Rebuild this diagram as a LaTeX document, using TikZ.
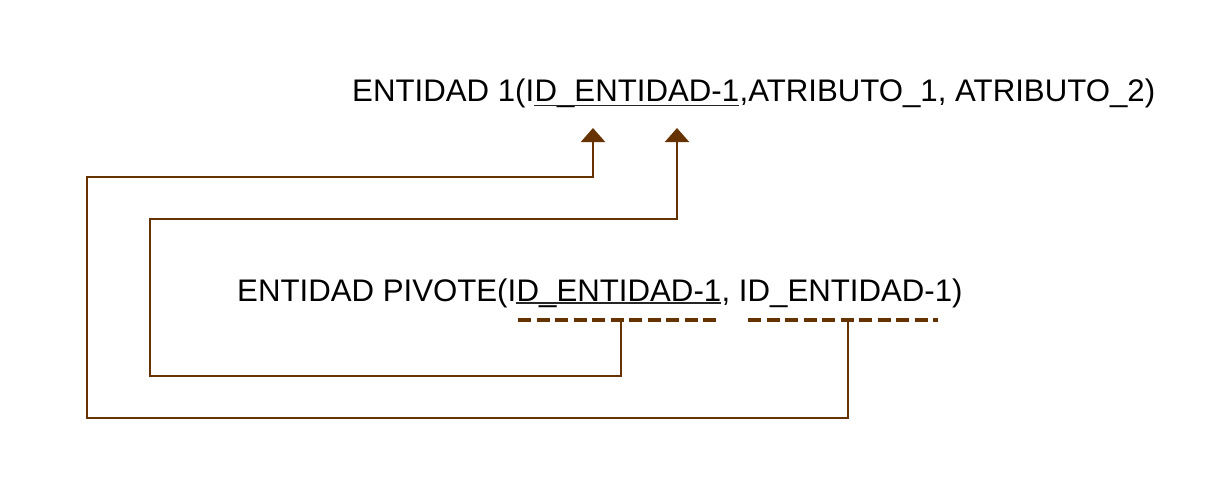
\documentclass[tikz,border=0pt]{standalone}
\usepackage{fontspec}
\setmainfont{Liberation Sans}
\usetikzlibrary{arrows.meta}
\definecolor{linkbrown}{RGB}{102,51,0}
\tikzset{
  relation/.style={font=\fontsize{31.2}{36}\selectfont, inner sep=0pt, anchor=base west},
  keyline/.style={draw=black!85, line width=1.8pt},
  fkline/.style={draw=linkbrown, line width=4pt, dash pattern=on 13pt off 5.5pt},
  link/.style={draw=linkbrown, line width=2.2pt},
  linkarrow/.style={link, -{Triangle[width=24pt,length=14pt]}}
}
\begin{document}
\begin{tikzpicture}[x=1pt, y=-1pt]
  \useasboundingbox (0,0) rectangle (1224,488);

  % relation ENTIDAD 1, with its primary key as a separate piece
  \node[relation] (entA) at (352,101.5) {ENTIDAD 1(I};
  \node[relation] (entKey) at (entA.base east) {D\_ENTIDAD-1};
  \node[relation] (entC) at (entKey.base east) {,ATRIBUTO\_1, ATRIBUTO\_2)};

  % relation ENTIDAD PIVOTE
  \node[relation] (pivA) at (237,301.5) {ENTIDAD PIVOTE(I};
  \node[relation] (pivKey) at (pivA.base east) {D\_ENTIDAD-1};
  \node[relation] (pivC) at (pivKey.base east) {, ID\_ENTIDAD-1)};

  % primary key underlines
  \draw[keyline] ([yshift=-4pt]entKey.base west) -- ([yshift=-4pt]entKey.base east);
  \draw[keyline] ([yshift=-1.5pt]pivKey.base west) -- ([yshift=-1.5pt]pivKey.base east);

  % foreign key marks
  \draw[fkline] (518,320) -- (720,320);
  \draw[fkline] (748,320) -- (938,320);

  % reference points
  \coordinate (fkA) at (621,321);
  \coordinate (fkB) at (848,321);
  \coordinate (pkA) at (677,128);
  \coordinate (pkB) at (593,128);

  % references from the pivot keys to the primary key
  \draw[linkarrow] (fkA) |- (150,376) |- (677,219) -- (pkA);
  \draw[linkarrow] (fkB) |- (87,418) |- (593,177) -- (pkB);
\end{tikzpicture}
\end{document}
